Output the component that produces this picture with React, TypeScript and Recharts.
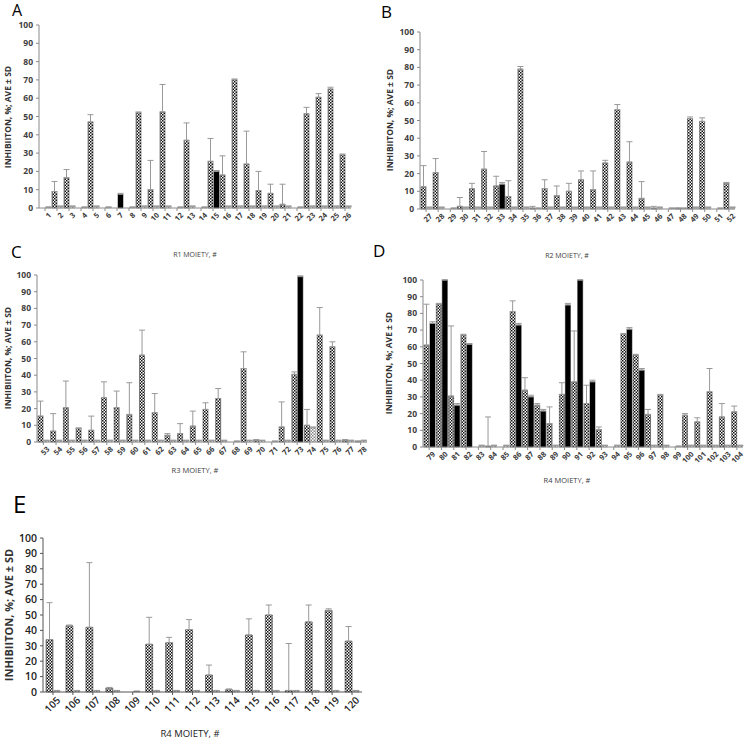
import * as React from "react";
import { Bar, BarChart, Cell, ErrorBar, XAxis, YAxis } from "recharts";

// panel A — R1 moiety
const aIds = [1, 2, 3, 4, 5, 6, 7, 8, 9, 10, 11, 12, 13, 14, 15, 16, 17, 18, 19, 20, 21, 22, 23, 24, 25, 26];
const aMain = [0, 9, 16.5, 0, 47, 0, 0, 0, 52, 10, 52.5, 0, 37, 0, 25.5, 18, 70, 24, 9.5, 8, 2, 0, 51.5, 60.5, 65, 29];
const aMainSd = [0, 5.5, 4.5, 0, 4, 12.5, 7.5, 9, 0.5, 16, 15, 0, 9.5, 20, 12.5, 10.5, 0.5, 18, 10.5, 5, 11, 0, 3.5, 2, 1, 0.5];
const aSecond = [0.5, 1, 1, 0.5, 1, 0.5, 7.5, 0.5, 1, 1, 1, 0.5, 1, 0.5, 20, 1, 1, 1, 1, 1, 1, 0.5, 1, 1, 1, 1];
const aSecondSd = [0, 0, 0, 0, 0, 0, 0.5, 0, 0, 0, 0, 0, 0, 0, 0.5, 0, 0, 0, 0, 0, 0, 0, 0, 0, 0, 0];
const aBlack = [7, 15];

// panel B — R2 moiety
const bIds = [27, 28, 29, 30, 31, 32, 33, 34, 35, 36, 37, 38, 39, 40, 41, 42, 43, 44, 45, 46, 47, 48, 49, 50, 51, 52];
const bMain = [12.5, 20.5, 0, 1.5, 11.5, 22.5, 13, 7, 79, 0.5, 11.5, 7.5, 10, 16.5, 11, 26, 56, 26.5, 6, 0.5, 0, 0.5, 51, 49.5, 0, 14.5];
const bMainSd = [12, 8, 16, 5, 3, 10, 5.5, 9, 1.5, 1, 5, 5.5, 4.5, 5, 10.5, 1.5, 3, 11.5, 9.5, 1, 5.5, 0, 1, 2, 0, 0.5];
const bSecond = [1, 1, 0.5, 1, 1, 1, 14, 1, 1, 0.5, 1, 1, 1, 1, 1, 1, 1, 1, 1, 1, 0.5, 0.5, 1, 1, 0.5, 1];
const bSecondSd = [0, 0, 0, 0, 0, 0, 1, 0, 0, 0, 0, 0, 0, 0, 0, 0, 0, 0, 0, 0, 0, 0, 0, 0, 0, 0];
const bBlack = [33];

// panel C — R3 moiety
const cIds = [53, 54, 55, 56, 57, 58, 59, 60, 61, 62, 63, 64, 65, 66, 67, 68, 69, 70, 71, 72, 73, 74, 75, 76, 77, 78];
const cMain = [15.5, 6.5, 20.5, 8, 7, 26.5, 20.5, 16.5, 52, 17.5, 4, 5, 9.5, 19.5, 26, 0, 44, 1, 0, 9, 40.5, 10, 64, 57, 1, 0.5];
const cMainSd = [9, 10.5, 16, 0.5, 8.5, 9.5, 10, 19, 15, 11.5, 1, 6, 9, 4, 6, 0.5, 10, 0.5, 14.5, 15, 1.5, 9.5, 16.5, 3, 0.5, 0];
const cSecond = [1, 1, 1, 1, 1, 1, 1, 1, 1, 1, 1, 1, 1, 1, 1, 0.5, 1, 1, 0.5, 1, 99, 8.5, 1, 1, 1, 1];
const cSecondSd = [0, 0, 0, 0, 0, 0, 0, 0, 0, 0, 0, 0, 0, 0, 0, 0, 0, 0, 0, 0, 0.5, 0.5, 0, 0, 0, 0];
const cBlack = [73];

// panel D — R4 moiety
const dIds = [79, 80, 81, 82, 83, 84, 85, 86, 87, 88, 89, 90, 91, 92, 93, 94, 95, 96, 97, 98, 99, 100, 101, 102, 103, 104];
const dMain = [61, 85.5, 30.5, 67, 0, 0.5, 0, 81, 34, 25, 14, 31.5, 39, 26, 10.5, 0, 67.5, 55, 19.5, 31, 0, 19, 15, 33, 18, 21];
const dMainSd = [24.5, 0.5, 42, 0.5, 16, 17.5, 0.5, 6.5, 7.5, 1, 10, 7, 30.5, 11, 1.5, 0.5, 0.5, 0.5, 3, 0.5, 0.5, 1, 2.5, 14, 8, 3.5];
const dSecond = [74, 100, 25, 61.5, 1, 1, 1, 73, 30, 21.5, 1, 85, 100, 39, 1, 1, 70.5, 46, 1, 1, 0.5, 1, 1, 1, 1, 1];
const dSecondSd = [1, 0, 1, 0.5, 0, 0, 0, 1, 1, 1, 0, 1, 0, 1, 0, 0, 1, 1, 0, 0, 0, 0, 0, 0, 0, 0];
const dBlack = [79, 80, 81, 82, 86, 87, 88, 90, 91, 92, 95, 96];

// panel E — R4 moiety
const eIds = [105, 106, 107, 108, 109, 110, 111, 112, 113, 114, 115, 116, 117, 118, 119, 120];
const eMain = [34, 43, 42, 2.5, 0, 31, 32, 40.5, 11, 1.5, 37, 50, 1, 45.5, 53, 33];
const eMainSd = [24, 0.5, 42, 0.5, 0, 17.5, 3.5, 6.5, 6.5, 0.5, 10.5, 6.5, 30.5, 11, 1, 9.5];
const eSecond = [1, 1, 1, 1, 0.5, 1, 1, 1, 1, 1, 1, 1, 1, 1, 1, 1];
const eSecondSd = [0, 0, 0, 0, 0, 0, 0, 0, 0, 0, 0, 0, 0, 0, 0, 0];
const eBlack: number[] = [];

const yTicks = [0, 10, 20, 30, 40, 50, 60, 70, 80, 90, 100];
const yLabel = "INHIBIITON, %; AVE ± SD";
const FONT = "'Open Sans', Lato, sans-serif";

function buildRows(ids, main, mainSd, second, secondSd, black) {
  return ids.map((id, i) => ({
    id,
    main: main[i],
    mainErr: [0, mainSd[i]],
    second: second[i],
    secondErr: [0, secondSd[i]],
    black: black.includes(id),
  }));
}

function Patterns({ id }) {
  return (
    <defs>
      <pattern id={`chk-${id}`} width="3" height="3" patternUnits="userSpaceOnUse">
        <rect width="3" height="3" fill="#fff" />
        <rect width="1.5" height="1.5" fill="#111" />
        <rect x="1.5" y="1.5" width="1.5" height="1.5" fill="#111" />
      </pattern>
      <pattern id={`lt-${id}`} width="3" height="3" patternUnits="userSpaceOnUse">
        <rect width="3" height="3" fill="#fff" />
        <rect width="1.5" height="1.5" fill="#888" />
        <rect x="1.5" y="1.5" width="1.5" height="1.5" fill="#888" />
      </pattern>
    </defs>
  );
}

function Panel({ id, left, top, width, height, margin, yWidth, xHeight, rows, mainSize, secondSize, tickFont, tickWeight, tickColor, axisColor, xFont }) {
  return (
    <div style={{ position: "absolute", left, top }}>
      <BarChart width={width} height={height} data={rows} margin={margin} barGap={1}>
        <Patterns id={id} />
        <XAxis
          dataKey="id"
          interval={0}
          height={xHeight}
          tickSize={3}
          axisLine={{ stroke: axisColor }}
          tickLine={{ stroke: axisColor }}
          angle={-45}
          textAnchor="end"
          tick={{ angle: -45, textAnchor: "end", dx: 3, dy: -1, fontSize: xFont, fontWeight: tickWeight, fill: tickColor }}
        />
        <YAxis
          type="number"
          domain={[0, 100]}
          ticks={yTicks}
          interval={0}
          width={yWidth}
          tickSize={3}
          tickMargin={3}
          axisLine={{ stroke: axisColor }}
          tickLine={{ stroke: axisColor }}
          tick={{ fontSize: tickFont, fontWeight: tickWeight, fill: tickColor }}
        />
        <Bar dataKey="main" barSize={mainSize} fill={`url(#chk-${id})`} stroke="#222" strokeWidth={0.5} isAnimationActive={false}>
          <ErrorBar dataKey="mainErr" width={3} stroke="#999" strokeWidth={1} direction="y" />
        </Bar>
        <Bar dataKey="second" barSize={secondSize} isAnimationActive={false} strokeWidth={0.5}>
          {rows.map((r, i) => (
            <Cell key={`c-${i}`} fill={r.black ? "#000" : `url(#lt-${id})`} stroke={r.black ? "#000" : "#999"} />
          ))}
          <ErrorBar dataKey="secondErr" width={3} stroke="#999" strokeWidth={1} direction="y" />
        </Bar>
      </BarChart>
    </div>
  );
}

export default function App() {
  const small = { tickFont: 8.5, tickWeight: 700, tickColor: "#404040", axisColor: "#8a8a8a", xFont: 7.5 };
  return (
    <div style={{ position: "absolute", left: 0, top: 0, width: 745, height: 744, background: "#fff", fontFamily: FONT }}>
      <Panel id="a" left={0} top={0} width={360} height={240} margin={{ top: 25, right: 9, bottom: 0, left: 0 }}
        yWidth={39} xHeight={32} rows={buildRows(aIds, aMain, aMainSd, aSecond, aSecondSd, aBlack)} mainSize={5} secondSize={5} {...small} />
      <Panel id="b" left={370} top={0} width={375} height={240} margin={{ top: 32, right: 10, bottom: 0, left: 0 }}
        yWidth={50} xHeight={31} rows={buildRows(bIds, bMain, bMainSd, bSecond, bSecondSd, bBlack)} mainSize={5} secondSize={5} {...small} />
      <Panel id="c" left={0} top={240} width={370} height={240} margin={{ top: 35, right: 3, bottom: 0, left: 0 }}
        yWidth={37} xHeight={38} rows={buildRows(cIds, cMain, cMainSd, cSecond, cSecondSd, cBlack)} mainSize={5} secondSize={5} {...small} />
      <Panel id="d" left={370} top={240} width={375} height={240} margin={{ top: 40, right: 2, bottom: 0, left: 0 }}
        yWidth={53} xHeight={33} rows={buildRows(dIds, dMain, dMainSd, dSecond, dSecondSd, dBlack)} mainSize={5} secondSize={5} {...small} />
      <Panel id="e" left={0} top={490} width={370} height={230} margin={{ top: 48, right: 8, bottom: 0, left: 0 }}
        yWidth={43} xHeight={28} rows={buildRows(eIds, eMain, eMainSd, eSecond, eSecondSd, eBlack)} mainSize={7} secondSize={6}
        tickFont={10.5} tickWeight={600} tickColor="#222" axisColor="#555" xFont={10} />
      <svg width={745} height={744} style={{ position: "absolute", left: 0, top: 0, pointerEvents: "none" }}>
        <g fill="#000" fontFamily={FONT}>
          <text x={12} y={15.5} fontSize={16}>A</text>
          <text x={381} y={18} fontSize={17}>B</text>
          <text x={11} y={258} fontSize={17}>C</text>
          <text x={373} y={257} fontSize={17}>D</text>
          <text x={13} y={513} fontSize={24}>E</text>
        </g>
        <g fill="#404040" fontFamily={FONT} textAnchor="middle">
          <text x={195} y={257} fontSize={7}>R1 MOIETY, #</text>
          <text x={567} y={258} fontSize={7}>R2 MOIETY, #</text>
          <text x={195} y={473} fontSize={7.5}>R3 MOIETY, #</text>
          <text x={567} y={483} fontSize={7.5}>R4 MOIETY, #</text>
          <text x={190} y={737} fontSize={9.5} fill="#222">R4 MOIETY, #</text>
        </g>
        <g fill="#333" fontFamily={FONT} fontWeight={700} textAnchor="middle" dominantBaseline="central">
          <text x={7} y={117} fontSize={8.5} transform="rotate(-90 7 117)">{yLabel}</text>
          <text x={389} y={120} fontSize={8.5} transform="rotate(-90 389 120)">{yLabel}</text>
          <text x={7} y={358} fontSize={8.5} transform="rotate(-90 7 358)">{yLabel}</text>
          <text x={388} y={363} fontSize={8.5} transform="rotate(-90 388 363)">{yLabel}</text>
          <text x={8} y={615} fontSize={11} transform="rotate(-90 8 615)">{yLabel}</text>
        </g>
      </svg>
    </div>
  );
}
